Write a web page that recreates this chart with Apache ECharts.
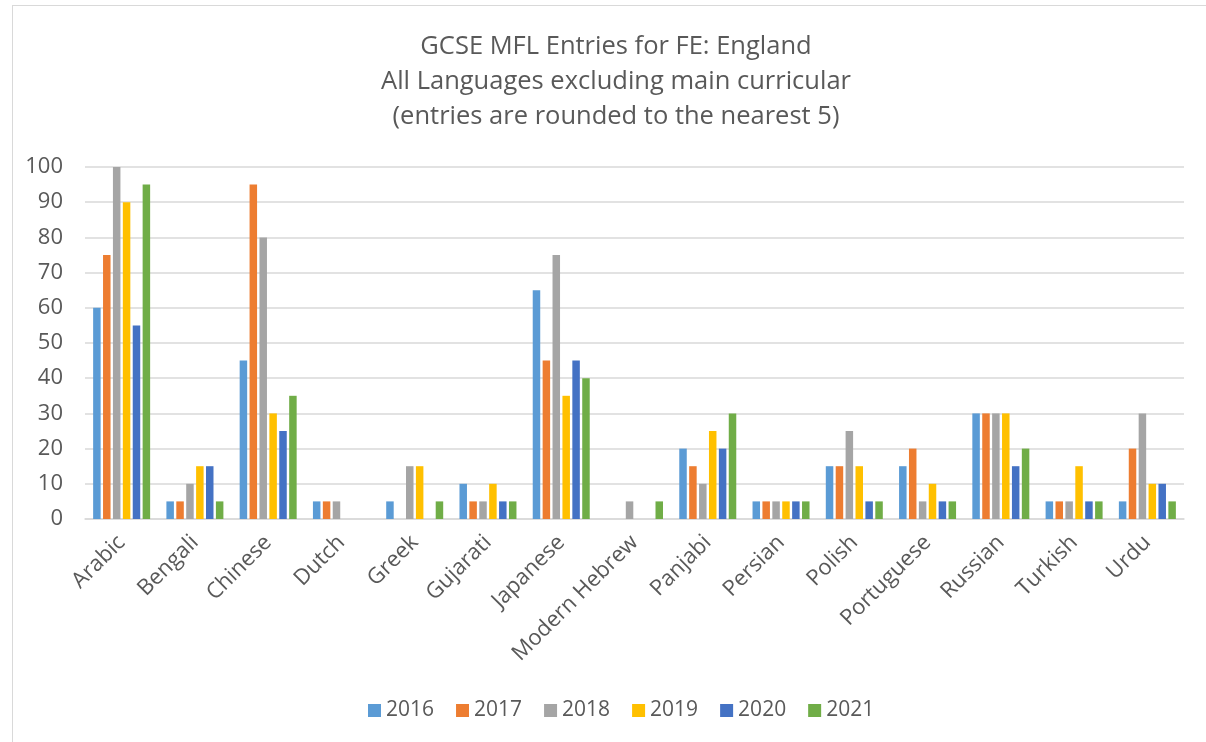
<!DOCTYPE html>
<html>
<head>
<meta charset="utf-8">
<script src="https://cdn.jsdelivr.net/npm/echarts@6/dist/echarts.min.js"></script>
<style>
html,body{margin:0;padding:0;background:#fff;}
#frame{position:absolute;left:12px;top:5px;width:1200px;height:745px;border:1px solid #d9d9d9;box-sizing:border-box;}
#chart{position:absolute;left:0;top:0;width:1206px;height:742px;}
</style>
</head>
<body>
<div id="frame"></div>
<div id="chart"></div>
<script>
const categories = ["Arabic","Bengali","Chinese","Dutch","Greek","Gujarati","Japanese","Modern Hebrew","Panjabi","Persian","Polish","Portuguese","Russian","Turkish","Urdu"];
const years = ["2016","2017","2018","2019","2020","2021"];
const v2016 = [60,5,45,5,5,10,65,0,20,5,15,15,30,5,5];
const v2017 = [75,5,95,5,0,5,45,0,15,5,15,20,30,5,20];
const v2018 = [100,10,80,5,15,5,75,5,10,5,25,5,30,5,30];
const v2019 = [90,15,30,0,15,10,35,0,25,5,15,10,30,15,10];
const v2020 = [55,15,25,0,0,5,45,0,20,5,5,5,15,5,10];
const v2021 = [95,5,35,0,5,5,40,5,30,5,5,5,20,5,5];
const yTicks = {min:0,max:100,interval:10};
const titleLines = ["GCSE MFL Entries for FE: England","All Languages excluding main curricular","(entries are rounded to the nearest 5)"];

const colors = ["#5B9BD5","#ED7D31","#A5A5A5","#FFC000","#4472C4","#70AD47"];
const allValues = [v2016,v2017,v2018,v2019,v2020,v2021];
const font = "'Open Sans', 'Liberation Sans', sans-serif";

const chart = echarts.init(document.getElementById('chart'));
chart.setOption({
  animation:false,
  color:colors,
  title:{
    text:titleLines.join('\n'),
    left:611, textAlign:'center', top:24,
    textStyle:{fontFamily:font,fontSize:25.5,fontWeight:'normal',color:'#595959',lineHeight:35}
  },
  legend:{
    bottom:16, left:363,
    itemWidth:13, itemHeight:13, itemGap:22,
    icon:'rect',
    textStyle:{fontFamily:font,fontSize:21,color:'#595959'},
    data:years
  },
  grid:{left:85,right:22,top:167,bottom:223},
  xAxis:{
    type:'category', data:categories,
    axisTick:{show:false},
    axisLine:{lineStyle:{color:'#d9d9d9',width:1.5}},
    axisLabel:{rotate:45,fontFamily:font,fontSize:22,color:'#595959',margin:20,interval:0}
  },
  yAxis:{
    type:'value', min:yTicks.min, max:yTicks.max, interval:yTicks.interval,
    axisLine:{show:false}, axisTick:{show:false},
    splitLine:{lineStyle:{color:'#d9d9d9',width:1.5}},
    axisLabel:{fontFamily:font,fontSize:22,color:'#595959',margin:22}
  },
  series: years.map((y,i)=>({
    name:y, type:'bar', data:allValues[i],
    barWidth:7.5, barGap:'32%',
    itemStyle:{color:colors[i]}
  }))
});
</script>
</body>
</html>
